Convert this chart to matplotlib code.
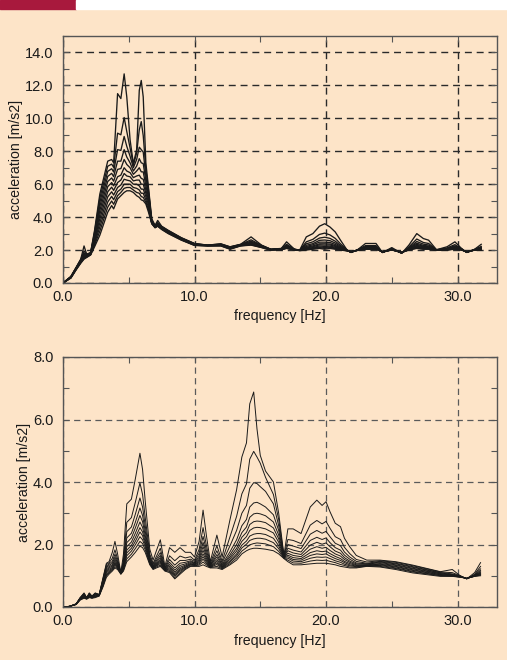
import numpy as np
import matplotlib
matplotlib.use("Agg")
import matplotlib.pyplot as plt
from matplotlib.ticker import MultipleLocator, FormatStrFormatter

BG = "#fde4c8"
INK = "#1a1a1a"

# ---- upper chart: 11 curves, one row per frequency (top curve first)
top_freq = [0.0, 0.6, 1.0, 1.35, 1.6, 1.8, 2.1, 2.4, 2.8, 3.1, 3.4, 3.7, 3.85,
            4.15, 4.4, 4.65, 4.85, 5.1, 5.35, 5.6, 5.8, 5.95, 6.1, 6.3, 6.5,
            6.75, 7.0, 7.2, 7.5, 8.0, 9.0, 10.0, 11.0, 12.0, 12.7, 13.5, 14.3,
            15.1, 15.8, 16.6, 17.0, 17.6, 18.0, 18.5, 19.0, 19.5, 19.9, 20.3,
            20.7, 21.1, 21.6, 21.9, 22.4, 23.0, 23.8, 24.3, 25.0, 25.75, 26.3,
            26.9, 27.4, 27.8, 28.4, 29.2, 29.8, 30.3, 30.7, 31.3, 31.8]
top_acc = [
    [0, 0, 0, 0, 0, 0, 0, 0, 0, 0, 0],
    [.40, .39, .38, .37, .36, .35, .34, .33, .32, .31, .30],
    [.95, .94, .92, .91, .89, .88, .86, .85, .83, .82, .80],
    [1.45, 1.43, 1.40, 1.38, 1.35, 1.33, 1.30, 1.28, 1.25, 1.23, 1.20],
    [2.25, 1.95, 1.83, 1.74, 1.67, 1.62, 1.58, 1.54, 1.51, 1.48, 1.45],
    [1.75, 1.73, 1.71, 1.69, 1.67, 1.65, 1.63, 1.61, 1.59, 1.57, 1.55],
    [1.85, 1.84, 1.82, 1.81, 1.79, 1.78, 1.76, 1.75, 1.73, 1.72, 1.70],
    [3.2, 3.1, 3.0, 2.9, 2.8, 2.7, 2.6, 2.5, 2.4, 2.3, 2.2],
    [5.4, 5.15, 4.9, 4.65, 4.4, 4.15, 3.9, 3.65, 3.4, 3.15, 2.9],
    [6.4, 6.12, 5.84, 5.56, 5.28, 5.0, 4.72, 4.44, 4.16, 3.88, 3.6],
    [7.4, 7.09, 6.78, 6.47, 6.16, 5.85, 5.54, 5.23, 4.92, 4.61, 4.3],
    [7.5, 7.22, 6.94, 6.66, 6.38, 6.1, 5.82, 5.54, 5.26, 4.98, 4.7],
    [7.3, 7.02, 6.74, 6.46, 6.18, 5.9, 5.62, 5.34, 5.06, 4.78, 4.5],
    [11.5, 9.1, 8.1, 7.4, 6.9, 6.45, 6.1, 5.8, 5.55, 5.3, 5.1],
    [11.2, 9.0, 8.05, 7.4, 6.95, 6.55, 6.25, 5.95, 5.7, 5.5, 5.3],
    [12.7, 10.05, 8.9, 8.1, 7.5, 7.0, 6.65, 6.3, 6.0, 5.75, 5.5],
    [11.3, 9.2, 8.3, 7.65, 7.2, 6.8, 6.5, 6.25, 6.0, 5.8, 5.6],
    [8.7, 8.2, 7.7, 7.3, 7.0, 6.7, 6.45, 6.2, 6.0, 5.8, 5.6],
    [7.25, 7.15, 7.0, 6.8, 6.6, 6.4, 6.2, 6.0, 5.8, 5.65, 5.5],
    [8.1, 7.9, 7.5, 7.1, 6.8, 6.5, 6.25, 6.0, 5.75, 5.5, 5.3],
    [11.7, 9.3, 8.25, 7.55, 7.0, 6.55, 6.25, 5.9, 5.65, 5.45, 5.2],
    [12.3, 9.8, 8.1, 7.3, 6.75, 6.35, 6.0, 5.7, 5.45, 5.25, 5.05],
    [11.3, 8.95, 7.95, 7.25, 6.75, 6.3, 6.0, 5.7, 5.45, 5.2, 5.0],
    [7.3, 6.9, 6.5, 6.2, 5.9, 5.65, 5.45, 5.25, 5.05, 4.9, 4.8],
    [5.8, 5.65, 5.5, 5.35, 5.2, 5.05, 4.9, 4.75, 4.6, 4.45, 4.3],
    [3.9, 3.79, 3.74, 3.71, 3.68, 3.66, 3.65, 3.63, 3.62, 3.61, 3.6],
    [3.5, 3.49, 3.47, 3.46, 3.44, 3.43, 3.41, 3.40, 3.38, 3.37, 3.35],
    [3.8, 3.67, 3.61, 3.58, 3.55, 3.52, 3.51, 3.49, 3.47, 3.46, 3.45],
    [3.45, 3.43, 3.41, 3.39, 3.37, 3.35, 3.33, 3.31, 3.29, 3.27, 3.25],
    [3.2, 3.18, 3.16, 3.14, 3.12, 3.1, 3.08, 3.06, 3.04, 3.02, 3.0],
    [2.75, 2.74, 2.72, 2.71, 2.69, 2.68, 2.66, 2.65, 2.63, 2.62, 2.6],
    [2.4, 2.39, 2.38, 2.36, 2.35, 2.34, 2.33, 2.32, 2.30, 2.29, 2.28],
    [2.3, 2.3, 2.29, 2.29, 2.28, 2.28, 2.27, 2.27, 2.26, 2.26, 2.25],
    [2.38, 2.37, 2.35, 2.34, 2.33, 2.32, 2.30, 2.29, 2.28, 2.26, 2.25],
    [2.2, 2.19, 2.17, 2.16, 2.14, 2.13, 2.11, 2.10, 2.08, 2.07, 2.05],
    [2.35, 2.34, 2.33, 2.32, 2.31, 2.3, 2.29, 2.28, 2.27, 2.26, 2.25],
    [2.8, 2.62, 2.54, 2.48, 2.44, 2.41, 2.38, 2.36, 2.34, 2.32, 2.3],
    [2.3, 2.28, 2.27, 2.25, 2.24, 2.22, 2.21, 2.19, 2.18, 2.16, 2.15],
    [2.05, 2.05, 2.04, 2.04, 2.03, 2.03, 2.02, 2.02, 2.01, 2.01, 2.0],
    [2.1, 2.09, 2.08, 2.07, 2.06, 2.06, 2.05, 2.04, 2.03, 2.03, 2.02],
    [2.5, 2.35, 2.29, 2.24, 2.21, 2.18, 2.16, 2.14, 2.13, 2.11, 2.1],
    [2.05, 2.05, 2.04, 2.04, 2.03, 2.03, 2.02, 2.02, 2.01, 2.01, 2.0],
    [2.0, 2.0, 2.0, 1.99, 1.99, 1.99, 1.98, 1.98, 1.98, 1.97, 1.97],
    [2.8, 2.5, 2.38, 2.29, 2.22, 2.17, 2.13, 2.09, 2.06, 2.03, 2.0],
    [3.0, 2.65, 2.5, 2.39, 2.32, 2.25, 2.2, 2.15, 2.12, 2.08, 2.05],
    [3.45, 2.95, 2.73, 2.59, 2.48, 2.38, 2.32, 2.25, 2.19, 2.15, 2.1],
    [3.6, 3.03, 2.78, 2.61, 2.48, 2.38, 2.3, 2.22, 2.16, 2.1, 2.05],
    [3.4, 2.92, 2.71, 2.57, 2.46, 2.37, 2.31, 2.24, 2.19, 2.15, 2.1],
    [3.1, 2.71, 2.54, 2.43, 2.34, 2.27, 2.22, 2.17, 2.12, 2.09, 2.05],
    [2.6, 2.38, 2.28, 2.22, 2.17, 2.13, 2.1, 2.07, 2.04, 2.02, 2.0],
    [2.0, 2.0, 1.99, 1.99, 1.98, 1.98, 1.97, 1.97, 1.96, 1.96, 1.95],
    [1.85, 1.86, 1.86, 1.87, 1.87, 1.88, 1.88, 1.89, 1.89, 1.9, 1.9],
    [2.02, 2.02, 2.01, 2.01, 2.0, 2.0, 2.0, 1.99, 1.99, 1.98, 1.98],
    [2.4, 2.27, 2.21, 2.18, 2.15, 2.12, 2.11, 2.09, 2.07, 2.06, 2.05],
    [2.4, 2.27, 2.21, 2.18, 2.15, 2.12, 2.11, 2.09, 2.07, 2.06, 2.05],
    [1.85, 1.85, 1.86, 1.86, 1.87, 1.87, 1.88, 1.88, 1.89, 1.89, 1.9],
    [2.15, 2.1, 2.08, 2.06, 2.05, 2.04, 2.03, 2.02, 2.01, 2.01, 2.0],
    [1.8, 1.81, 1.82, 1.82, 1.83, 1.84, 1.85, 1.85, 1.86, 1.87, 1.88],
    [2.3, 2.19, 2.14, 2.11, 2.08, 2.06, 2.05, 2.03, 2.02, 2.01, 2.0],
    [3.0, 2.67, 2.52, 2.42, 2.35, 2.29, 2.24, 2.2, 2.16, 2.13, 2.1],
    [2.7, 2.46, 2.36, 2.28, 2.23, 2.19, 2.15, 2.12, 2.1, 2.07, 2.05],
    [2.6, 2.4, 2.31, 2.25, 2.2, 2.17, 2.14, 2.11, 2.09, 2.07, 2.05],
    [2.02, 2.02, 2.01, 2.01, 2.0, 2.0, 2.0, 2.0, 1.99, 1.99, 1.99],
    [2.2, 2.13, 2.09, 2.07, 2.06, 2.04, 2.03, 2.02, 2.01, 2.01, 2.0],
    [2.5, 2.33, 2.26, 2.21, 2.18, 2.14, 2.12, 2.1, 2.08, 2.07, 2.05],
    [2.1, 2.08, 2.07, 2.06, 2.05, 2.04, 2.03, 2.02, 2.01, 2.01, 2.0],
    [1.85, 1.86, 1.86, 1.87, 1.87, 1.88, 1.88, 1.89, 1.89, 1.9, 1.9],
    [2.05, 2.04, 2.03, 2.02, 2.02, 2.01, 2.01, 2.0, 2.0, 2.0, 2.0],
    [2.35, 2.22, 2.16, 2.13, 2.1, 2.07, 2.06, 2.04, 2.02, 2.01, 2.0],
]

# ---- lower chart: 11 curves, one row per frequency (top curve first)
bot_freq = [0.0, 0.5, 1.0, 1.3, 1.6, 1.8, 2.0, 2.2, 2.45, 2.75, 3.05, 3.3,
            3.5, 3.75, 3.95, 4.15, 4.4, 4.6, 4.85, 5.2, 5.5, 5.85, 6.05, 6.25,
            6.6, 6.85, 7.1, 7.4, 7.75, 8.1, 8.5, 8.9, 9.3, 9.7, 10.0, 10.35,
            10.65, 10.9, 11.2, 11.7, 12.1, 12.7, 13.2, 13.6, 13.95, 14.2, 14.5,
            14.75, 15.0, 15.4, 16.0, 16.4, 16.8, 17.1, 17.5, 18.1, 18.8, 19.3,
            19.7, 20.0, 20.3, 20.7, 21.1, 21.4, 21.8, 22.3, 23.1, 24.1, 25.3,
            26.6, 28.7, 29.6, 30.2, 30.7, 31.3, 31.75]
bot_acc = [
    [0, 0, 0, 0, 0, 0, 0, 0, 0, 0, 0],
    [.02, .02, .02, .02, .02, .02, .02, .02, .02, .02, .02],
    [.10, .10, .10, .09, .09, .09, .09, .09, .08, .08, .08],
    [.30, .29, .28, .28, .27, .26, .25, .24, .24, .23, .22],
    [.45, .43, .42, .40, .38, .37, .35, .33, .31, .30, .28],
    [.30, .30, .29, .29, .28, .28, .27, .27, .26, .26, .25],
    [.45, .44, .42, .41, .39, .38, .36, .35, .33, .32, .30],
    [.35, .34, .34, .33, .32, .32, .31, .30, .29, .29, .28],
    [.45, .44, .42, .41, .39, .38, .36, .35, .33, .32, .30],
    [.40, .40, .39, .39, .38, .38, .37, .37, .36, .36, .35],
    [.95, .92, .89, .86, .83, .80, .77, .74, .71, .68, .65],
    [1.4, 1.36, 1.31, 1.27, 1.22, 1.18, 1.13, 1.09, 1.04, 1.0, .95],
    [1.45, 1.41, 1.37, 1.33, 1.29, 1.25, 1.21, 1.17, 1.13, 1.09, 1.05],
    [1.75, 1.56, 1.46, 1.4, 1.35, 1.31, 1.27, 1.24, 1.21, 1.18, 1.15],
    [2.1, 1.83, 1.69, 1.6, 1.53, 1.47, 1.42, 1.38, 1.34, 1.29, 1.25],
    [1.7, 1.54, 1.46, 1.41, 1.37, 1.33, 1.3, 1.28, 1.25, 1.23, 1.2],
    [1.1, 1.09, 1.09, 1.08, 1.08, 1.08, 1.07, 1.07, 1.06, 1.06, 1.05],
    [1.7, 1.52, 1.44, 1.38, 1.33, 1.29, 1.26, 1.23, 1.21, 1.18, 1.15],
    [3.3, 2.71, 2.41, 2.21, 2.06, 1.93, 1.82, 1.73, 1.64, 1.54, 1.45],
    [3.45, 2.86, 2.56, 2.36, 2.21, 2.08, 1.97, 1.88, 1.79, 1.69, 1.6],
    [4.1, 3.35, 2.97, 2.71, 2.53, 2.36, 2.22, 2.1, 1.99, 1.87, 1.75],
    [4.92, 3.97, 3.49, 3.17, 2.93, 2.72, 2.54, 2.4, 2.25, 2.1, 1.95],
    [4.4, 3.6, 3.2, 2.93, 2.73, 2.55, 2.4, 2.28, 2.15, 2.03, 1.9],
    [3.4, 2.87, 2.61, 2.43, 2.29, 2.18, 2.08, 2.0, 1.92, 1.83, 1.75],
    [1.85, 1.69, 1.61, 1.56, 1.52, 1.48, 1.45, 1.43, 1.4, 1.38, 1.35],
    [1.5, 1.4, 1.36, 1.32, 1.3, 1.28, 1.26, 1.25, 1.23, 1.22, 1.2],
    [1.8, 1.62, 1.54, 1.48, 1.43, 1.39, 1.36, 1.33, 1.31, 1.28, 1.25],
    [2.15, 1.88, 1.74, 1.65, 1.58, 1.52, 1.47, 1.43, 1.39, 1.34, 1.3],
    [1.3, 1.25, 1.23, 1.21, 1.2, 1.19, 1.18, 1.17, 1.17, 1.16, 1.15],
    [1.9, 1.64, 1.52, 1.43, 1.36, 1.31, 1.26, 1.22, 1.18, 1.14, 1.1],
    [1.75, 1.48, 1.34, 1.25, 1.18, 1.12, 1.07, 1.03, .99, .94, .9],
    [1.9, 1.63, 1.49, 1.4, 1.33, 1.27, 1.22, 1.18, 1.14, 1.09, 1.05],
    [1.75, 1.57, 1.49, 1.43, 1.38, 1.34, 1.31, 1.28, 1.26, 1.23, 1.2],
    [1.75, 1.61, 1.53, 1.48, 1.45, 1.42, 1.39, 1.37, 1.35, 1.32, 1.3],
    [1.6, 1.5, 1.46, 1.42, 1.4, 1.38, 1.36, 1.35, 1.33, 1.32, 1.3],
    [2.1, 1.84, 1.72, 1.63, 1.56, 1.51, 1.46, 1.42, 1.38, 1.34, 1.3],
    [3.1, 2.54, 2.26, 2.07, 1.93, 1.81, 1.7, 1.61, 1.53, 1.44, 1.35],
    [2.3, 1.98, 1.82, 1.71, 1.63, 1.56, 1.5, 1.45, 1.4, 1.35, 1.3],
    [1.45, 1.39, 1.35, 1.33, 1.32, 1.3, 1.29, 1.28, 1.27, 1.26, 1.25],
    [2.3, 1.96, 1.8, 1.68, 1.6, 1.52, 1.46, 1.41, 1.36, 1.3, 1.25],
    [1.6, 1.47, 1.41, 1.36, 1.33, 1.3, 1.28, 1.26, 1.24, 1.22, 1.2],
    [2.8, 2.25, 1.96, 1.77, 1.67, 1.6, 1.54, 1.48, 1.44, 1.39, 1.35],
    [3.75, 2.9, 2.45, 2.15, 2.0, 1.88, 1.79, 1.7, 1.64, 1.57, 1.5],
    [4.8, 3.62, 3.0, 2.6, 2.38, 2.23, 2.1, 1.98, 1.89, 1.79, 1.7],
    [5.25, 3.94, 3.25, 2.8, 2.56, 2.39, 2.25, 2.11, 2.01, 1.9, 1.8],
    [6.5, 4.73, 3.8, 3.2, 2.87, 2.64, 2.45, 2.27, 2.13, 1.99, 1.85],
    [6.88, 4.98, 3.98, 3.33, 2.98, 2.73, 2.53, 2.33, 2.18, 2.03, 1.88],
    [5.7, 4.8, 3.95, 3.35, 3.0, 2.75, 2.55, 2.35, 2.2, 2.05, 1.88],
    [4.85, 4.6, 3.85, 3.3, 2.98, 2.74, 2.54, 2.35, 2.2, 2.04, 1.87],
    [4.35, 4.15, 3.7, 3.2, 2.92, 2.7, 2.5, 2.32, 2.17, 2.02, 1.85],
    [4.0, 3.6, 3.3, 2.95, 2.72, 2.53, 2.37, 2.2, 2.06, 1.93, 1.8],
    [3.0, 2.8, 2.6, 2.45, 2.3, 2.18, 2.07, 1.96, 1.87, 1.78, 1.7],
    [1.65, 1.64, 1.63, 1.62, 1.61, 1.6, 1.59, 1.58, 1.57, 1.56, 1.55],
    [2.5, 2.16, 2.0, 1.88, 1.8, 1.72, 1.66, 1.61, 1.56, 1.5, 1.45],
    [2.5, 2.13, 1.95, 1.82, 1.73, 1.65, 1.58, 1.52, 1.47, 1.41, 1.35],
    [2.35, 2.03, 1.87, 1.76, 1.68, 1.61, 1.55, 1.5, 1.45, 1.4, 1.35],
    [3.2, 2.62, 2.33, 2.13, 1.98, 1.85, 1.74, 1.65, 1.56, 1.47, 1.38],
    [3.42, 2.77, 2.45, 2.23, 2.07, 1.93, 1.8, 1.7, 1.6, 1.5, 1.4],
    [3.25, 2.66, 2.36, 2.16, 2.01, 1.88, 1.77, 1.68, 1.59, 1.49, 1.4],
    [3.37, 2.74, 2.42, 2.21, 2.05, 1.91, 1.79, 1.7, 1.6, 1.5, 1.4],
    [3.05, 2.52, 2.25, 2.06, 1.93, 1.81, 1.71, 1.63, 1.55, 1.46, 1.38],
    [2.68, 2.25, 2.04, 1.9, 1.79, 1.7, 1.62, 1.55, 1.48, 1.42, 1.35],
    [2.57, 2.16, 1.96, 1.82, 1.72, 1.63, 1.55, 1.49, 1.43, 1.36, 1.3],
    [2.2, 1.91, 1.76, 1.66, 1.58, 1.52, 1.46, 1.42, 1.37, 1.33, 1.28],
    [1.93, 1.71, 1.6, 1.53, 1.47, 1.43, 1.39, 1.35, 1.32, 1.28, 1.25],
    [1.65, 1.52, 1.46, 1.41, 1.38, 1.35, 1.33, 1.31, 1.29, 1.27, 1.25],
    [1.5, 1.44, 1.4, 1.38, 1.37, 1.35, 1.34, 1.33, 1.32, 1.31, 1.3],
    [1.5, 1.48, 1.46, 1.44, 1.42, 1.39, 1.37, 1.35, 1.33, 1.3, 1.28],
    [1.45, 1.43, 1.4, 1.38, 1.35, 1.33, 1.3, 1.28, 1.25, 1.23, 1.2],
    [1.34, 1.32, 1.29, 1.27, 1.24, 1.22, 1.19, 1.17, 1.14, 1.12, 1.09],
    [1.13, 1.12, 1.1, 1.09, 1.07, 1.06, 1.04, 1.03, 1.01, 1.0, .98],
    [1.2, 1.1, 1.06, 1.04, 1.03, 1.02, 1.01, 1.0, .99, .99, .98],
    [1.0, 1.0, .99, .99, .98, .98, .97, .97, .96, .96, .95],
    [.9, .9, .9, .91, .91, .91, .91, .91, .92, .92, .92],
    [1.1, 1.05, 1.03, 1.02, 1.01, 1.0, 1.0, .99, .99, .98, .98],
    [1.42, 1.3, 1.22, 1.17, 1.13, 1.1, 1.08, 1.06, 1.04, 1.02, 1.0],
]

plt.rcParams["font.family"] = ["Liberation Sans", "DejaVu Sans"]
plt.rcParams["font.size"] = 10

fig = plt.figure(figsize=(5.07, 6.6), dpi=100, facecolor=BG)

# red tab and white strip along the top edge
fig.patches.append(plt.Rectangle((0, 1 - 9 / 660), 76 / 507, 9 / 660,
                                 transform=fig.transFigure, color="#a8193d", zorder=0))
fig.patches.append(plt.Rectangle((76 / 507, 1 - 9 / 660), 1 - 76 / 507, 9 / 660,
                                 transform=fig.transFigure, color="white", zorder=0))


def style_axes(ax, ymax, ystep, grid_color, lw):
    ax.set_facecolor(BG)
    ax.set_xlim(0, 33)
    ax.set_ylim(0, ymax)
    ax.xaxis.set_major_locator(MultipleLocator(10))
    ax.xaxis.set_minor_locator(MultipleLocator(5))
    ax.yaxis.set_major_locator(MultipleLocator(ystep))
    ax.yaxis.set_minor_locator(MultipleLocator(ystep / 2))
    ax.xaxis.set_major_formatter(FormatStrFormatter("%.1f"))
    ax.yaxis.set_major_formatter(FormatStrFormatter("%.1f"))
    ax.tick_params(which="both", direction="in", top=True, right=True,
                   color="#555555", labelsize=10.5, labelcolor=INK)
    ax.tick_params(which="both", length=4, width=0.8)
    ax.tick_params(axis="y", pad=7)
    ax.tick_params(axis="x", pad=5)
    ax.grid(True, which="major", color=grid_color, linestyle=(0, (5, 3.5)), linewidth=lw)
    for s in ax.spines.values():
        s.set_color("#555555")
        s.set_linewidth(1.0)
    ax.set_xlabel("frequency [Hz]", color=INK, fontsize=10.2, labelpad=4)
    ax.set_ylabel("acceleration [m/s2]", color=INK, fontsize=10.2, labelpad=1)


ax1 = fig.add_axes([63 / 507, 1 - 283 / 660, 434 / 507, 247 / 660])
style_axes(ax1, 15, 2, "#2a2a2a", 1.0)
ax1.set_yticks(np.arange(0, 15, 2))
ax1.plot(top_freq, np.array(top_acc), color=INK, linewidth=0.95)

ax2 = fig.add_axes([63 / 507, 1 - 607 / 660, 434 / 507, 250 / 660])
style_axes(ax2, 8, 2, "#5a5a5a", 0.9)
ax2.plot(bot_freq, np.array(bot_acc), color=INK, linewidth=0.7)

fig.savefig("out.png", dpi=100, facecolor=BG)
